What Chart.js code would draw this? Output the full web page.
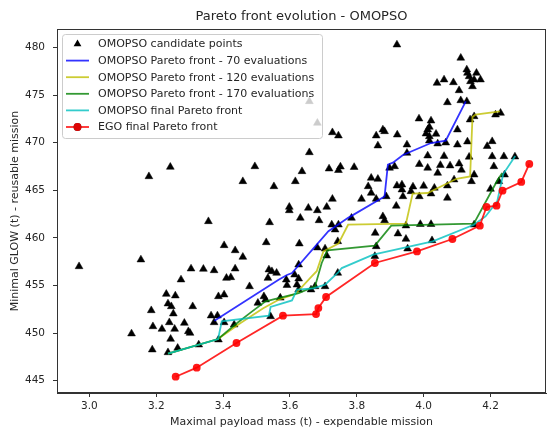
<!DOCTYPE html>
<html>
<head>
<meta charset="utf-8">
<script src="https://cdn.jsdelivr.net/npm/chart.js@4"></script>
<style>
  body { margin: 0; background: #fff; }
  #wrap { width: 551px; height: 430px; }
</style>
</head>
<body>
<div id="wrap"><canvas id="myChart" width="551" height="430"></canvas></div>
<script>
// candidate points (payload mass, GLOW)
const candX = [2.969, 3.154, 3.178, 3.242, 3.274, 3.304, 3.341, 3.373, 3.356, 3.403, 3.436, 3.459, 3.436, 3.410, 3.423, 3.230, 3.257, 3.386, 3.403, 3.459,
  3.126, 3.185, 3.190, 3.217, 3.235, 3.245, 3.251, 3.239, 3.255, 3.243, 3.188, 3.235, 3.264, 3.284, 3.296, 3.301, 3.309, 3.327, 3.364, 3.383,
  3.373, 3.386, 3.403, 3.433, 3.479, 3.522, 3.495, 3.552, 3.529, 3.539, 3.537, 3.546, 3.560, 3.534, 3.598, 3.598, 3.616, 3.631, 3.628, 3.589,
  3.591, 3.614, 3.626, 3.621, 3.626, 3.636, 3.504, 3.527, 3.542, 3.571, 3.682, 3.705, 3.710, 3.658, 3.655, 3.682, 3.710, 3.687, 3.663, 3.675,
  3.705, 3.626, 3.743, 3.717, 3.745, 3.751, 3.792, 3.843, 3.834, 3.863, 3.898, 3.913, 3.920, 3.935, 3.935, 3.938, 3.968, 3.962, 4.000, 4.032,
  3.987, 4.012, 4.042, 4.050, 4.079, 4.106, 4.113, 4.151, 4.143, 4.012, 4.061, 4.136, 4.071, 4.091, 4.022, 3.987, 4.071, 4.205, 4.240, 4.273,
  4.210, 4.242, 4.225, 4.200, 3.727, 3.784, 3.814, 3.858, 3.888, 3.918, 3.878, 3.883, 3.725, 3.735, 3.745, 3.947, 3.990, 4.022, 3.855, 3.923,
  3.947, 3.743, 3.854, 3.858, 3.952, 4.025, 4.151, 3.843, 3.920, 4.111, 4.129, 4.131, 4.136, 4.158, 4.170, 4.140, 4.146, 4.151, 4.040, 4.061,
  4.089, 4.106, 4.071, 4.111, 4.129, 3.986, 4.022, 4.017, 4.012, 4.007, 4.017, 4.037, 4.101, 4.139, 4.151, 4.215, 4.230, 3.878, 3.883, 3.921,
  3.727, 3.745, 3.858, 3.658, 3.682, 4.017, 4.042, 4.066, 4.131, 4.101, 4.190, 4.205, 3.863, 3.950, 3.950];
const candY = [457.00, 457.71, 466.45, 467.44, 455.61, 456.76, 456.73, 456.58, 461.73, 459.21, 458.68, 457.99, 456.76, 455.78, 455.85, 454.10, 453.93, 453.85, 454.03, 465.93,
  449.94, 452.38, 450.70, 450.43, 453.09, 452.80, 452.04, 451.12, 450.43, 449.38, 448.26, 447.97, 448.43, 451.06, 450.18, 450.01, 452.80, 448.78, 451.83, 451.83,
  451.12, 449.31, 451.12, 450.88, 454.90, 453.85, 467.50, 465.40, 459.52, 461.62, 456.66, 456.48, 456.31, 455.78, 463.24, 462.88, 465.93, 462.09, 459.39, 455.60,
  455.03, 456.13, 455.71, 455.08, 457.18, 466.98, 453.16, 453.51, 451.75, 453.70, 458.97, 458.86, 458.13, 468.97, 463.14, 462.88, 463.24, 461.83, 454.56, 454.90,
  454.90, 454.56, 456.31, 467.26, 467.10, 467.47, 467.42, 466.29, 465.40, 466.18, 467.34, 467.50, 465.48, 465.58, 465.06, 464.35, 465.37, 464.88, 465.45, 465.24,
  467.73, 467.34, 466.81, 467.63, 467.58, 467.79, 467.13, 466.63, 465.93, 468.63, 468.58, 468.50, 465.48, 466.11, 464.64, 464.35, 464.19, 468.55, 468.55, 468.52,
  467.50, 466.63, 465.93, 465.13, 464.08, 462.09, 464.08, 464.08, 464.35, 463.35, 462.25, 461.83, 461.38, 460.86, 461.38, 461.28, 461.43, 461.43, 460.51, 460.44,
  459.88, 459.63, 458.07, 459.10, 458.86, 459.73, 461.38, 464.71, 480.28, 478.89, 477.66, 477.31, 476.95, 477.31, 476.61, 476.43, 475.90, 476.61, 476.26, 476.61,
  476.32, 475.48, 474.22, 474.43, 474.33, 472.51, 472.30, 471.64, 471.36, 470.94, 470.65, 470.91, 471.36, 472.41, 472.75, 472.93, 473.11, 471.36, 471.18, 470.83,
  471.07, 470.73, 470.73, 474.33, 472.06, 470.20, 469.89, 469.99, 470.10, 469.78, 469.62, 470.13, 469.68, 469.78, 468.91];

// OMOPSO fronts at different stages
const front70X = [3.374, 3.566, 3.591, 3.606, 3.715, 3.774, 3.883, 3.893, 3.908, 3.938, 4.022, 4.066, 4.126];
const front70Y = [451.3, 455.6, 456.1, 456.3, 460.7, 462.1, 464.35, 467.7, 467.9, 468.7, 469.96, 470.2, 474.33];

const front120X = [3.235, 3.385, 3.45, 3.52, 3.566, 3.616, 3.665, 3.680, 3.700, 3.745, 3.774, 3.947, 3.967, 4.012, 4.098, 4.139, 4.146, 4.155, 4.228];
const front120Y = [447.84, 449.38, 451.0, 452.6, 453.5, 454.1, 455.95, 456.5, 458.58, 459.4, 461.38, 461.5, 464.64, 464.71, 466.2, 466.45, 472.7, 472.93, 473.28];

const front170X = [3.235, 3.385, 3.44, 3.48, 3.527, 3.626, 3.675, 3.695, 3.712, 3.854, 3.903, 4.150, 4.220, 4.235];
const front170Y = [447.84, 449.38, 451.0, 452.1, 453.33, 454.2, 454.9, 457.36, 458.7, 459.18, 461.28, 461.5, 466.0, 466.8];

const finalX = [3.235, 3.385, 3.396, 3.537, 3.542, 3.606, 3.621, 3.670, 3.705, 3.745, 3.755, 3.849, 4.027, 4.150, 4.185, 4.220, 4.238, 4.274];
const finalY = [447.84, 449.38, 451.23, 451.83, 452.74, 453.43, 454.56, 454.69, 455.08, 456.4, 456.83, 458.23, 459.63, 461.38, 462.25, 463.83, 466.7, 468.6];

// EGO final front
const egoX = [3.258, 3.321, 3.440, 3.579, 3.678, 3.685, 3.708, 3.854, 3.980, 4.086, 4.168, 4.188, 4.218, 4.236, 4.292, 4.316];
const egoY = [445.42, 446.37, 448.96, 451.83, 452.0, 452.63, 453.79, 457.36, 458.58, 459.88, 461.28, 463.24, 463.38, 464.95, 465.87, 467.76];

const xTicks = [3.0, 3.2, 3.4, 3.6, 3.8, 4.0, 4.2];
const yTicks = [445, 450, 455, 460, 465, 470, 475, 480];

const toPts = (xs, ys) => xs.map((x, i) => ({x: x, y: ys[i]}));

const FONT = "'DejaVu Sans', sans-serif";
const TEXT = '#262626';

const lineSet = (label, xs, ys, color, order) => ({
    label: label,
    data: toPts(xs, ys),
    showLine: true,
    borderColor: color,
    backgroundColor: color,
    borderWidth: 1.8,
    pointRadius: 0,
    tension: 0,
    order: order
});

// frame + title + legend inside the axes
const decorPlugin = {
    id: 'decor',
    afterDatasetsDraw(chart) {
        const {ctx, chartArea: a} = chart;
        const x0 = a.left + 5, y0 = a.top + 5, w = 260, h = 104;
        ctx.save();
        ctx.beginPath();
        ctx.roundRect(x0 + 0.5, y0 + 0.5, w, h, 3);
        ctx.fillStyle = 'rgba(255,255,255,0.8)';
        ctx.fill();
        ctx.strokeStyle = '#cccccc';
        ctx.lineWidth = 1;
        ctx.stroke();

        ctx.font = '11px ' + FONT;
        ctx.textBaseline = 'middle';
        ctx.textAlign = 'left';
        chart.data.datasets.forEach((ds, i) => {
            const cy = y0 + 10 + i * 16.6;
            const hx0 = x0 + 4, hx1 = x0 + 27, mx = x0 + 15.5;
            if (ds.showLine) {
                ctx.strokeStyle = ds.borderColor;
                ctx.lineWidth = 1.8;
                ctx.beginPath();
                ctx.moveTo(hx0, cy);
                ctx.lineTo(hx1, cy);
                ctx.stroke();
            }
            if (ds.pointRadius > 0) {
                Chart.helpers.drawPoint(ctx, {
                    pointStyle: ds.pointStyle || 'circle',
                    radius: ds.pointRadius,
                    borderWidth: 0
                }, mx, cy);
                ctx.fillStyle = ds.backgroundColor;
                ctx.fill();
            }
            ctx.fillStyle = TEXT;
            ctx.fillText(ds.label, x0 + 36, cy + 0.5);
        });
        ctx.restore();
    },
    afterDraw(chart) {
        const {ctx, chartArea: a} = chart;
        ctx.save();
        ctx.strokeStyle = '#333';
        ctx.lineWidth = 1;
        ctx.strokeRect(a.left + 0.5, a.top + 0.5, a.right - a.left - 1, a.bottom - a.top - 1);
        ctx.fillStyle = TEXT;
        ctx.font = '13px ' + FONT;
        ctx.textAlign = 'center';
        ctx.textBaseline = 'middle';
        ctx.fillText('Pareto front evolution - OMOPSO', (a.left + a.right) / 2, 17);
        ctx.restore();
    }
};

new Chart(document.getElementById('myChart'), {
    type: 'scatter',
    data: {
        datasets: [
            {
                label: 'OMOPSO candidate points',
                data: toPts(candX, candY),
                pointStyle: 'triangle',
                pointRadius: 4.5,
                backgroundColor: '#000',
                borderColor: '#000',
                borderWidth: 0.5,
                order: 5
            },
            lineSet('OMOPSO Pareto front - 70 evaluations', front70X, front70Y, 'rgba(0,0,255,0.8)', 4),
            lineSet('OMOPSO Pareto front - 120 evaluations', front120X, front120Y, 'rgba(191,191,0,0.8)', 3),
            lineSet('OMOPSO Pareto front - 170 evaluations', front170X, front170Y, 'rgba(0,128,0,0.8)', 2),
            lineSet('OMOPSO final Pareto front', finalX, finalY, 'rgba(0,191,191,0.8)', 1),
            Object.assign(lineSet('EGO final Pareto front', egoX, egoY, 'rgba(255,0,0,0.85)', 0), {
                pointRadius: 3.9,
                pointBackgroundColor: 'rgba(255,0,0,0.9)',
                pointBorderWidth: 0,
                pointStyle: 'circle'
            })
        ]
    },
    options: {
        responsive: false,
        animation: false,
        events: [],
        layout: { padding: { top: 29, right: 2, left: 0, bottom: 0 } },
        plugins: {
            legend: { display: false },
            tooltip: { enabled: false }
        },
        scales: {
            x: {
                type: 'linear',
                min: 2.903,
                max: 4.366,
                afterBuildTicks: (s) => { s.ticks = xTicks.map(v => ({value: v})); },
                afterFit: (s) => { s.height = 37; },
                ticks: {
                    callback: (v) => Number(v).toFixed(1),
                    font: { family: FONT, size: 10.5 },
                    color: TEXT,
                    padding: 3,
                    maxRotation: 0
                },
                grid: { drawOnChartArea: false, drawTicks: true, tickLength: 4, color: '#333' },
                border: { display: true, color: '#333' },
                title: {
                    display: true,
                    text: 'Maximal payload mass (t) - expendable mission',
                    font: { family: FONT, size: 11 },
                    color: TEXT,
                    padding: { top: 0, bottom: 1.5 }
                }
            },
            y: {
                type: 'linear',
                min: 443.71,
                max: 481.93,
                afterBuildTicks: (s) => { s.ticks = yTicks.map(v => ({value: v})); },
                afterFit: (s) => { s.width = 57; },
                ticks: {
                    callback: (v) => String(v),
                    font: { family: FONT, size: 10.5 },
                    color: TEXT,
                    padding: 8
                },
                grid: { drawOnChartArea: false, drawTicks: true, tickLength: 4, color: '#333' },
                border: { display: true, color: '#333' },
                title: {
                    display: true,
                    text: 'Minimal GLOW (t) - reusable mission',
                    font: { family: FONT, size: 11 },
                    color: TEXT,
                    padding: { top: 9, bottom: 0 }
                }
            }
        }
    },
    plugins: [decorPlugin]
});
</script>
</body>
</html>
